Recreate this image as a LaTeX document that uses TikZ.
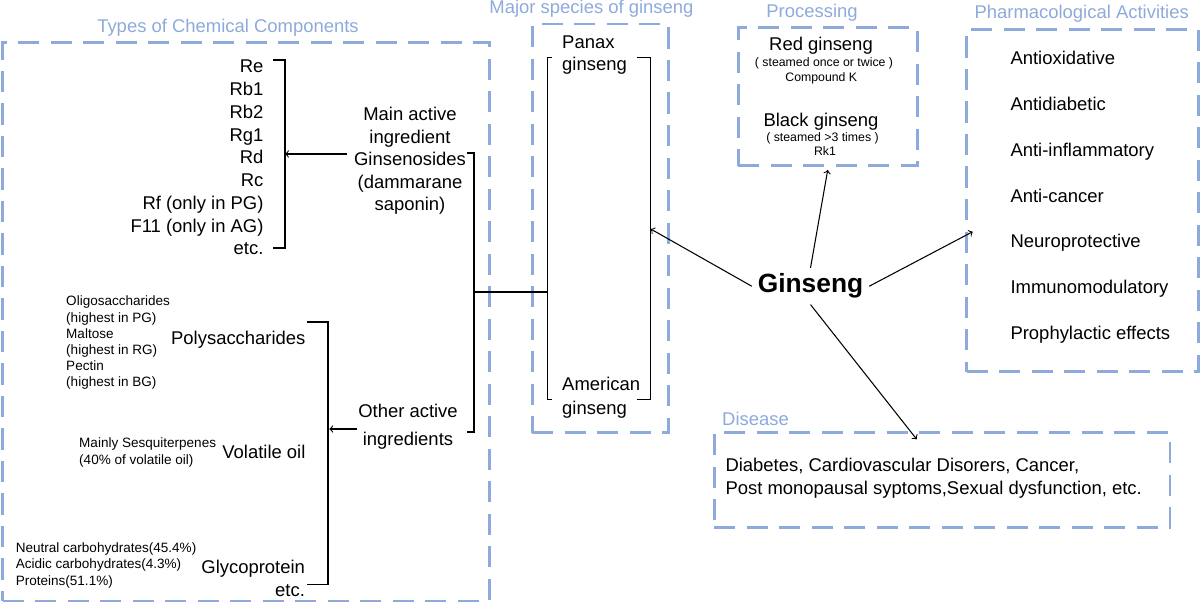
\documentclass[tikz,border=0pt]{standalone}
\usepackage{fontspec}
\setmainfont{Liberation Sans}
\usetikzlibrary{positioning}
\definecolor{boxblue}{RGB}{142,170,219}

\begin{document}
\begin{tikzpicture}[x=0.02cm,y=-0.02cm,line width=0.6pt,
  panel/.style={draw=boxblue,line width=1.6pt,dash pattern=on 12pt off 6.5pt,inner sep=0pt,outer sep=0pt},
  paneltitle/.style={text=boxblue,font=\fontsize{10.5}{12.9}\selectfont,inner sep=0pt,anchor=base},
  txt/.style={font=\fontsize{10.5}{12.9}\selectfont,inner sep=0pt},
  small/.style={font=\fontsize{7.7}{9.24}\selectfont,inner sep=0pt,align=left,anchor=base west},
  tiny/.style={font=\fontsize{7}{8.5}\selectfont,inner sep=0pt,anchor=base}]
\useasboundingbox (0,0) rectangle (1200,604);

% panels and their titles
\node[panel,minimum width=9.732cm,minimum height=11.174cm] (chem) at (246,321.65) {};
\node[panel,minimum width=2.72cm,minimum height=8.174cm] (species) at (600.3,228.35) {};
\node[panel,minimum width=3.58cm,minimum height=2.76cm] (proc) at (827.8,96.7) {};
\node[panel,minimum width=4.632cm,minimum height=6.848cm] (pharm) at (1082.5,200.5) {};
\node[panel,minimum width=9.114cm,minimum height=1.9cm] (disease) at (942.15,480.2) {};
\node[paneltitle] (chemtitle) at (228,32.3) {Types of Chemical Components};
\node[paneltitle] (spectitle) at (591.5,14) {Major species of ginseng};
\node[paneltitle] (proctitle) at (812,17.3) {Processing};
\node[paneltitle] (pharmtitle) at (1081.7,18.3) {Pharmacological Activities};
\node[paneltitle,anchor=base west] (distitle) at (721.7,425) {Disease};

% ginsenosides
\foreach \name [count=\i] in {Re,Rb1,Rb2,Rg1,Rd,Rc,Rf (only in PG),F11 (only in AG),etc.}
  \node[txt,anchor=base east] (gs\i) at (264,{73+22.75*(\i-1)}) {\name};
\draw (273,60) -- (285,60) -- (285,248) -- (273,248);
\coordinate (gsbrace) at (285,154);
\node[txt,align=center,anchor=base] (mainact) at (410,211)
  {Main active\\ingredient\\Ginsenosides\\(dammarane\\saponin)};
\coordinate (mainfrom) at (347,154);
\draw[->] (mainfrom) -- (gsbrace);

% other ingredients
\node[txt,anchor=base east] (poly) at (306,345) {Polysaccharides};
\node[txt,anchor=base east] (volatile) at (306,459) {Volatile oil};
\node[txt,align=right,anchor=base east] (glyco) at (305.5,596) {Glycoprotein\\etc.};
\node[small] (polynote) at (65.7,387)
  {Oligosaccharides\\(highest in PG)\\Maltose\\(highest in RG)\\Pectin\\(highest in BG)};
\node[small] (volnote) at (78.7,464) {Mainly Sesquiterpenes\\(40\% of volatile oil)};
\node[small] (glyconote) at (15.3,585)
  {Neutral carbohydrates(45.4\%)\\Acidic carbohydrates(4.3\%)\\Proteins(51.1\%)};
\draw (307,322) -- (328,322) -- (328,584.3) -- (307,584.3);
\coordinate (otherbrace) at (329.3,429);
\node[txt,align=center,anchor=base] (otheract) at (408,445) {Other active\\[3pt]ingredients};
\coordinate (otherfrom) at (357,429);
\draw[->] (otherfrom) -- (otherbrace);

% join to the species
\draw (467,153) -- (474,153) -- (474,432) -- (467,432);
\draw (474,292) -- (547.7,292);
\draw (552,57.3) -- (547.7,57.3) -- (547.7,399.3) -- (552,399.3);
\draw (637,57.3) -- (650.7,57.3) -- (650.7,399.3) -- (637,399.3);
\coordinate (specbrace) at (650.7,229);
\node[txt,align=left,anchor=base west] (panax) at (561.7,71) {Panax\\ginseng};
\node[txt,align=left,anchor=base west] (american) at (561.7,414.3) {American\\[0.9pt]ginseng};

% processing
\node[txt,anchor=base] (red) at (821,50.7) {Red ginseng};
\node[tiny] (rednote) at (824,66.7) {( steamed once or twice )};
\node[tiny] (redcomp) at (821.3,81.7) {Compound K};
\node[txt,anchor=base] (black) at (821,126.7) {Black ginseng};
\node[tiny] (blacknote) at (822.5,141.7) {( steamed >3 times )};
\node[tiny] (blackcomp) at (825,156) {Rk1};

% activities
\foreach \name [count=\i] in {Antioxidative,Antidiabetic,Anti-inflammatory,Anti-cancer,
    Neuroprotective,Immunomodulatory,Prophylactic effects}
  \node[txt,anchor=base west] (act\i) at (1010,{65+45.7*(\i-1)}) {\name};

% disease
\node[txt,align=left,anchor=base west] (distext) at (725,494)
  {Diabetes, Cardiovascular Disorers, Cancer,\\Post monopausal syptoms,Sexual dysfunction, etc.};

% ginseng in the middle
\node[font=\fontsize{15}{18}\selectfont\bfseries,anchor=base,inner sep=0pt,outer sep=0.12cm]
  (ginseng) at (810.5,293) {Ginseng};
\coordinate (procin) at (827.7,170);
\coordinate (pharmin) at (972.7,231.7);
\coordinate (disin) at (916.7,439.3);
\draw[->] (ginseng.west) -- (specbrace);
\draw[->] (ginseng.north) -- (procin);
\draw[->] (ginseng.east) -- (pharmin);
\draw[->] (ginseng.south) -- (disin);
\end{tikzpicture}
\end{document}
